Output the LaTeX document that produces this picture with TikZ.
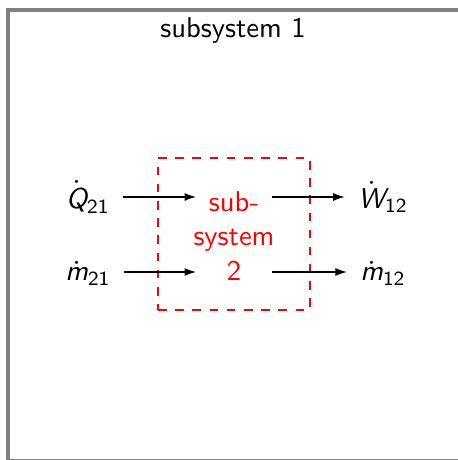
\documentclass[tikz,border=0pt]{standalone}
\usepackage{amsmath}
\usepackage{xcolor}
\usetikzlibrary{arrows.meta,positioning,calc}

\begin{document}
\begin{tikzpicture}[
  x=0.349pt, y=-0.349pt,
  every node/.style={font=\sffamily},
  flow/.style={inner sep=4.5pt},
  link/.style={-{Latex[length=4pt,width=2.8pt]}},
  sysbox/.style={draw=red, thick, dashed, text=red, align=center,
                 minimum width=53pt, minimum height=53pt}
]
  \clip (0,0) rectangle (458,460);
  \draw[gray, line width=1.4pt] (8,10) rectangle (480,461);

  \node (title) at (233,30) {subsystem 1};
  \node[sysbox] (sys) at (234,234) {};
  \node[text=red, align=center] (syslabel) at (234,236) {sub-\\system\\2};

  \node[flow] (q)  at (88,197)  {$\dot{\textit{Q}}_{\textsf{21}}$};
  \node[flow] (m1) at (88,273)  {$\dot{\textit{m}}_{\textsf{21}}$};
  \node[flow] (w)  at (383,197) {$\dot{\textit{W}}_{\textsf{12}}$};
  \node[flow] (m2) at (383,273) {$\dot{\textit{m}}_{\textsf{12}}$};

  \coordinate (in1)  at (196,197);
  \coordinate (in2)  at (196,272);
  \coordinate (out1) at (272,197);
  \coordinate (out2) at (272,272);

  \draw[link] (q.east |- in1) -- (in1);
  \draw[link] (m1.east |- in2) -- (in2);
  \draw[link] (out1) -- (w.west |- out1);
  \draw[link] (out2) -- (m2.west |- out2);
\end{tikzpicture}
\end{document}
